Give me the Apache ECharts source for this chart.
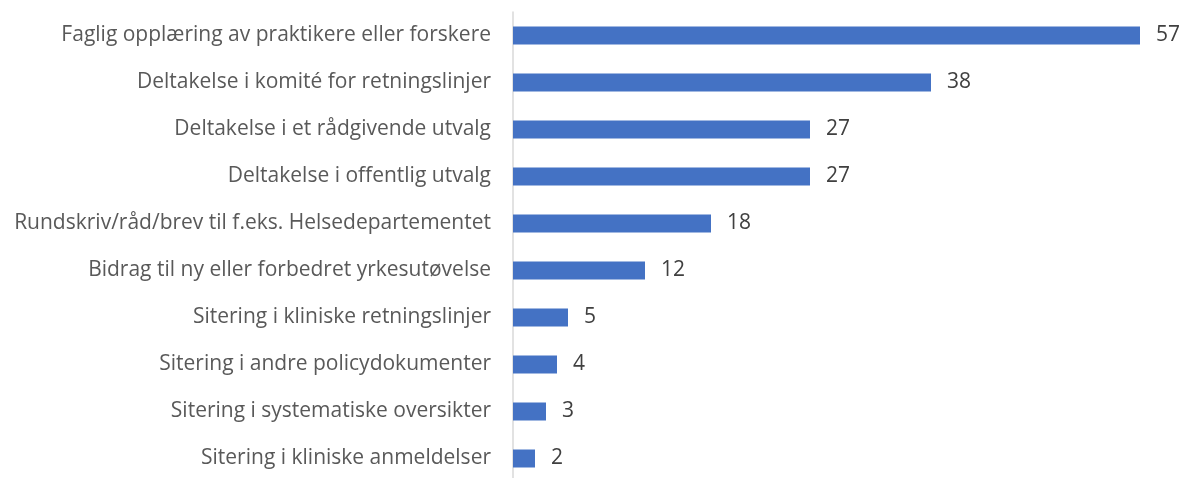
<!DOCTYPE html>
<html>
<head>
<meta charset="utf-8">
<script src="https://cdn.jsdelivr.net/npm/echarts@6/dist/echarts.min.js"></script>
<style>
  html, body { margin: 0; padding: 0; background: #fff; }
  #chart { width: 1183px; height: 478px; }
</style>
</head>
<body>
<div id="chart"></div>
<script>
// categories top to bottom
const categories = [
  'Faglig opplæring av praktikere eller forskere',
  'Deltakelse i komité for retningslinjer',
  'Deltakelse i et rådgivende utvalg',
  'Deltakelse i offentlig utvalg',
  'Rundskriv/råd/brev til f.eks. Helsedepartementet',
  'Bidrag til ny eller forbedret yrkesutøvelse',
  'Sitering i kliniske retningslinjer',
  'Sitering i andre policydokumenter',
  'Sitering i systematiske oversikter',
  'Sitering i kliniske anmeldelser'
];
const values = [57, 38, 27, 27, 18, 12, 5, 4, 3, 2];

const chart = echarts.init(document.getElementById('chart'));

let option = {
  animation: false,
  grid: {
    left: 513, width: 660, top: 12, height: 470,
    containLabel: false,
    outerBoundsMode: 'none'
  },
  xAxis: {
    type: 'value',
    min: 0,
    max: 60,
    show: false
  },
  yAxis: {
    type: 'category',
    data: categories,
    inverse: true,
    axisLine: { show: true, lineStyle: { color: '#d9d9d9', width: 1.5 } },
    axisTick: { show: false },
    axisLabel: {
      color: '#595959',
      fontFamily: 'Open Sans',
      fontSize: 21,
      margin: 22
    }
  },
  series: [
    {
      type: 'bar',
      data: values,
      barWidth: 18,
      itemStyle: { color: '#4472c4' },
      label: {
        show: true,
        position: 'right',
        distance: 16,
        color: '#404040',
        fontFamily: 'Open Sans',
        fontSize: 21
      }
    }
  ]
};

option && chart.setOption(option);
</script>
</body>
</html>
